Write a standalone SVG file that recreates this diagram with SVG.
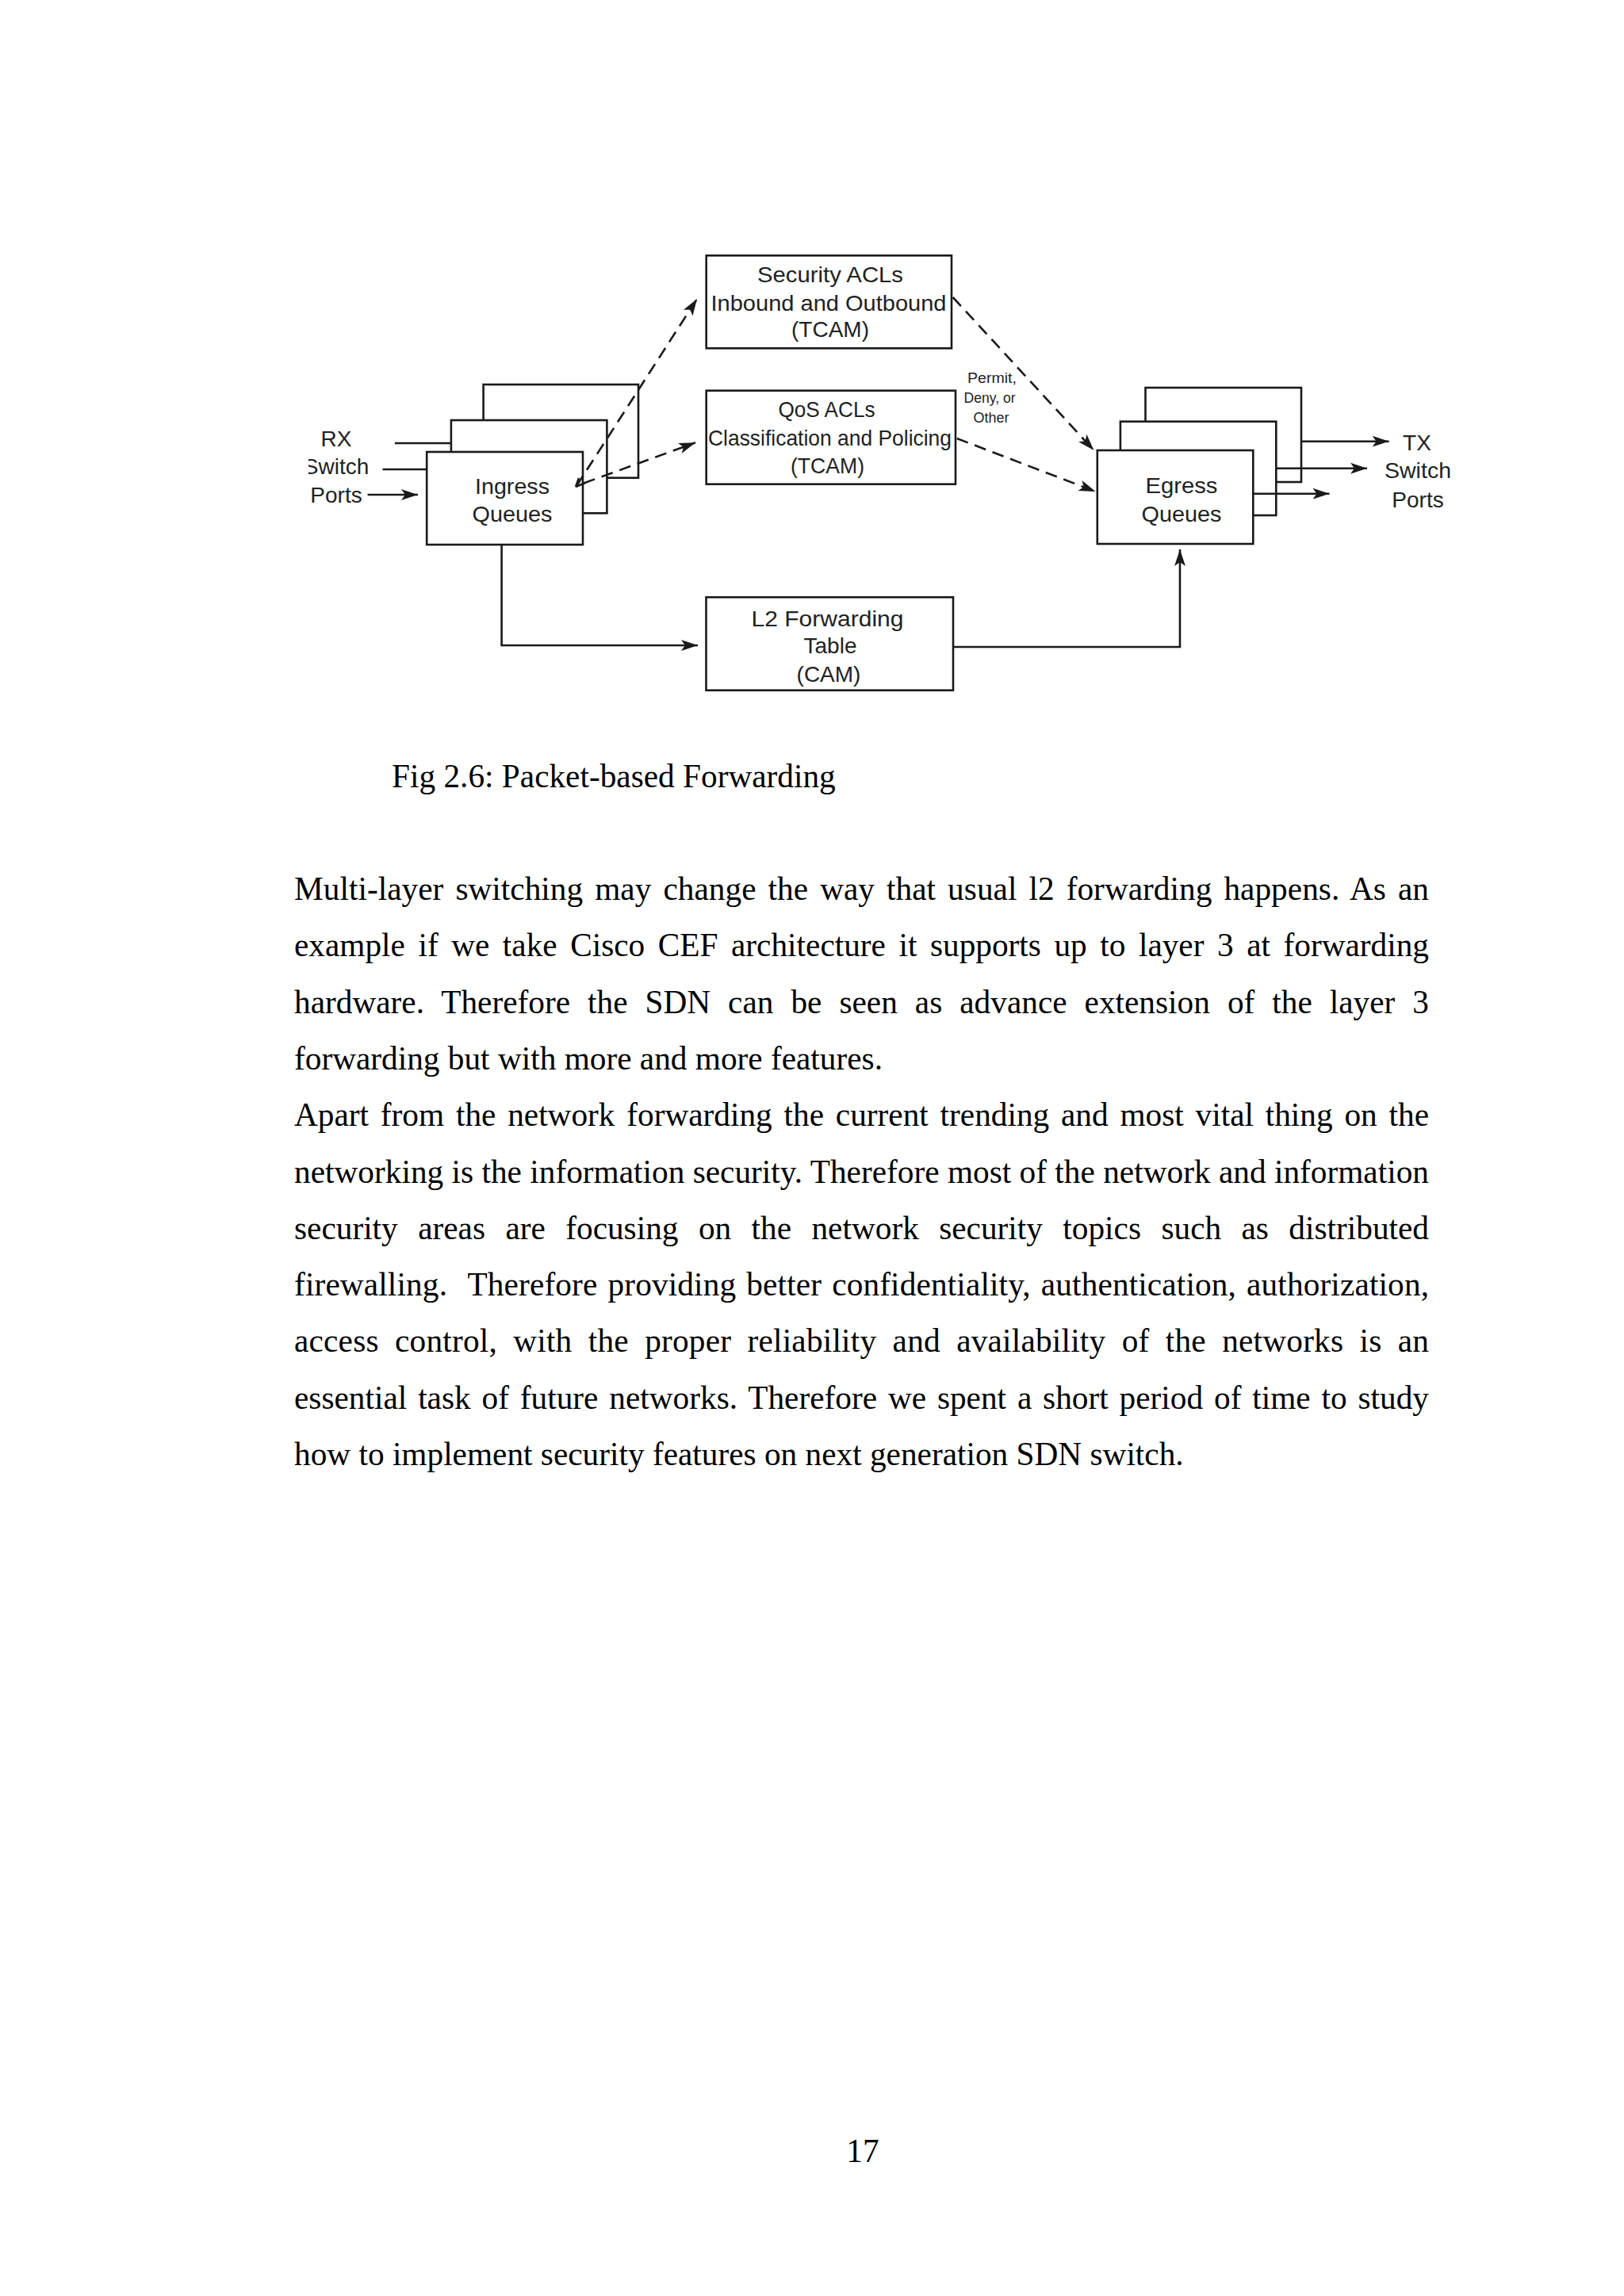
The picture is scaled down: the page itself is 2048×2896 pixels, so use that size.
<svg xmlns="http://www.w3.org/2000/svg" width="2048" height="2896" viewBox="0 0 2048 2896">
<style>
.bg{fill:#ffffff}
.box{fill:#ffffff;stroke:#1a1a1a;stroke-width:2.6}
.lbl{font-family:"Liberation Sans","Arial",sans-serif;font-size:28px;fill:#222222;text-anchor:middle}
.small{font-family:"Liberation Sans","Arial",sans-serif;font-size:18px;fill:#222222;text-anchor:middle}
.ln{fill:none;stroke:#1a1a1a;stroke-width:2.6}
.dash{fill:none;stroke:#1a1a1a;stroke-width:2.6;stroke-dasharray:15 9}
.body{font-family:"Liberation Serif","Times New Roman",serif;font-size:41.3px;fill:#000}
</style>
<defs>
<marker id="ah" markerUnits="userSpaceOnUse" markerWidth="24" markerHeight="16" refX="21" refY="7" orient="auto">
<path d="M0,0 L21,7 L0,14 L5,7 z" fill="#1a1a1a"/>
</marker>
<clipPath id="leftclip"><rect x="389" y="300" width="1600" height="600"/></clipPath>
</defs>
<rect class="bg" x="0" y="0" width="2048" height="2896"/>

<g id="rx-ports" clip-path="url(#leftclip)">
<text class="lbl" x="424" y="563">RX</text>
<text class="lbl" x="424" y="598">Switch</text>
<text class="lbl" x="424" y="634">Ports</text>
</g>

<g id="ingress-queues">
<rect class="box" x="609.6" y="485" width="195.4" height="117.7"/>
<rect class="box" x="568.9" y="530" width="196.5" height="117.3"/>
<rect class="box" x="538.2" y="570" width="196.8" height="117"/>
<text class="lbl" x="646" y="623" textLength="94" lengthAdjust="spacingAndGlyphs">Ingress</text>
<text class="lbl" x="646" y="658" textLength="101" lengthAdjust="spacingAndGlyphs">Queues</text>
</g>

<g id="security-acls">
<rect class="box" x="890.7" y="322.3" width="309.3" height="117"/>
<text class="lbl" x="1047" y="355.5" textLength="184" lengthAdjust="spacingAndGlyphs">Security ACLs</text>
<text class="lbl" x="1045" y="392" textLength="297" lengthAdjust="spacingAndGlyphs">Inbound and Outbound</text>
<text class="lbl" x="1047" y="425">(TCAM)</text>
</g>

<g id="qos-acls">
<rect class="box" x="890.7" y="492.7" width="314.3" height="118"/>
<text class="lbl" x="1042.5" y="526" textLength="122" lengthAdjust="spacingAndGlyphs">QoS ACLs</text>
<text class="lbl" x="1046.5" y="562" textLength="307" lengthAdjust="spacingAndGlyphs">Classification and Policing</text>
<text class="lbl" x="1043.5" y="597" textLength="93" lengthAdjust="spacingAndGlyphs">(TCAM)</text>
</g>

<g id="l2-forwarding">
<rect class="box" x="890.5" y="753.3" width="311.5" height="117.4"/>
<text class="lbl" x="1043.5" y="790" textLength="192" lengthAdjust="spacingAndGlyphs">L2 Forwarding</text>
<text class="lbl" x="1047" y="824">Table</text>
<text class="lbl" x="1045" y="860">(CAM)</text>
</g>

<g id="egress-queues">
<rect class="box" x="1444.5" y="489" width="196.5" height="119"/>
<rect class="box" x="1412.9" y="531.7" width="196.4" height="118.3"/>
<rect class="box" x="1383.8" y="568" width="196.5" height="118"/>
<text class="lbl" x="1490" y="621.7" textLength="91" lengthAdjust="spacingAndGlyphs">Egress</text>
<text class="lbl" x="1490" y="658" textLength="101" lengthAdjust="spacingAndGlyphs">Queues</text>
</g>

<g id="tx-ports">
<text class="lbl" x="1787" y="568">TX</text>
<text class="lbl" x="1788" y="603" textLength="84" lengthAdjust="spacingAndGlyphs">Switch</text>
<text class="lbl" x="1788" y="640">Ports</text>
</g>

<g id="permit-label">
<text class="small" x="1251" y="482.7" textLength="62" lengthAdjust="spacingAndGlyphs">Permit,</text>
<text class="small" x="1248" y="508.3" textLength="65" lengthAdjust="spacingAndGlyphs">Deny, or</text>
<text class="small" x="1250" y="533.3" textLength="45" lengthAdjust="spacingAndGlyphs">Other</text>
</g>

<g id="connectors">
<line class="ln" x1="497.9" y1="559" x2="568.9" y2="559"/>
<line class="ln" x1="482.5" y1="592" x2="538.2" y2="592"/>
<line class="ln" x1="463.6" y1="624" x2="527" y2="624" marker-end="url(#ah)"/>
<line class="dash" x1="727" y1="613" x2="879" y2="377" marker-end="url(#ah)"/>
<path class="ln" d="M726,614 L738,609 M726,614 L730,603" stroke-width="2"/>
<line class="dash" x1="736" y1="609.5" x2="877" y2="558.3" marker-end="url(#ah)"/>
<line class="dash" x1="1201.7" y1="375" x2="1379.5" y2="568" marker-end="url(#ah)"/>
<line class="dash" x1="1206.7" y1="553" x2="1381.6" y2="620" marker-end="url(#ah)"/>
<path class="ln" d="M632.6,687 V814 H880" marker-end="url(#ah)"/>
<path class="ln" d="M1202,816 H1488 V693" marker-end="url(#ah)"/>
<line class="ln" x1="1641" y1="556.7" x2="1751.6" y2="556.7" marker-end="url(#ah)"/>
<line class="ln" x1="1609.3" y1="590.7" x2="1724" y2="590.7" marker-end="url(#ah)"/>
<line class="ln" x1="1580.3" y1="622.7" x2="1676.5" y2="622.7" marker-end="url(#ah)"/>
</g>

<g id="caption">
<text class="body" x="494" y="993">Fig 2.6: Packet-based Forwarding</text>
</g>

<g id="body-text">
<text class="body" x="371" y="1135" word-spacing="4.7" textLength="1431" lengthAdjust="spacing">Multi-layer switching may change the way that usual l2 forwarding happens. As an</text>
<text class="body" x="371" y="1206.3" word-spacing="6.2" textLength="1431" lengthAdjust="spacing">example if we take Cisco CEF architecture it supports up to layer 3 at forwarding</text>
<text class="body" x="371" y="1277.6" word-spacing="11.7" textLength="1431" lengthAdjust="spacing">hardware. Therefore the SDN can be seen as advance extension of the layer 3</text>
<text class="body" x="371" y="1348.9">forwarding but with more and more features.</text>
<text class="body" x="371" y="1420.2" word-spacing="4.5" textLength="1431" lengthAdjust="spacing">Apart from the network forwarding the current trending and most vital thing on the</text>
<text class="body" x="371" y="1491.5" textLength="1431" lengthAdjust="spacing">networking is the information security. Therefore most of the network and information</text>
<text class="body" x="371" y="1562.8" word-spacing="15.1" textLength="1431" lengthAdjust="spacing">security areas are focusing on the network security topics such as distributed</text>
<text class="body" x="371" y="1634.1" word-spacing="2.6" textLength="1431" lengthAdjust="spacing">firewalling.&#160; Therefore providing better confidentiality, authentication, authorization,</text>
<text class="body" x="371" y="1705.4" word-spacing="9.8" textLength="1431" lengthAdjust="spacing">access control, with the proper reliability and availability of the networks is an</text>
<text class="body" x="371" y="1776.7" word-spacing="3.5" textLength="1431" lengthAdjust="spacing">essential task of future networks. Therefore we spent a short period of time to study</text>
<text class="body" x="371" y="1848">how to implement security features on next generation SDN switch.</text>
</g>

<g id="page-number">
<text class="body" x="1088" y="2726.7" font-size="26" text-anchor="middle">17</text>
</g>
</svg>
